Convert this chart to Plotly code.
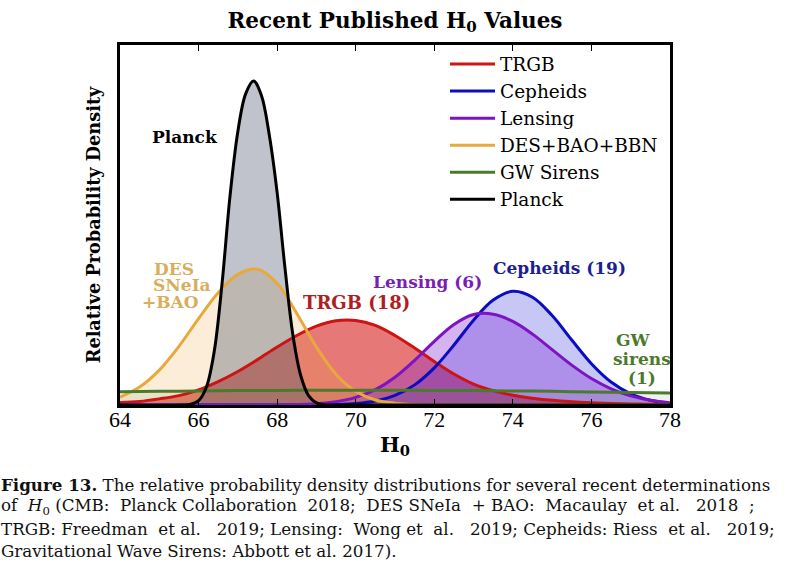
import plotly.graph_objects as go

# ---------------- data ----------------
h0_grid = [64.0, 64.5, 65.0, 65.5, 66.0, 66.5, 67.0, 67.5, 68.0, 68.5, 69.0, 69.5,
           70.0, 70.5, 71.0, 71.5, 72.0, 72.5, 73.0, 73.5, 74.0, 74.5, 75.0, 75.5,
           76.0, 76.5, 77.0, 77.5, 78.0]

trgb = [0.007, 0.010, 0.017, 0.026, 0.042, 0.065, 0.093, 0.126, 0.161, 0.193, 0.219, 0.234,
        0.235, 0.221, 0.193, 0.158, 0.121, 0.086, 0.058, 0.040, 0.027, 0.019, 0.013, 0.009,
        0.006, 0.004, 0.003, 0.002, 0.001]

cepheids = [0.0, 0.0, 0.0, 0.0, 0.0, 0.0, 0.0, 0.0, 0.0, 0.0001, 0.0004, 0.0013,
            0.0040, 0.0110, 0.0265, 0.0559, 0.1032, 0.1666, 0.2356, 0.2915, 0.3158, 0.2994, 0.2485, 0.1805,
            0.1148, 0.0639, 0.0311, 0.0133, 0.0050]

lensing = [0.0, 0.0, 0.0, 0.0, 0.0, 0.0, 0.0, 0.0001, 0.0004, 0.0012, 0.0035, 0.0092,
           0.0210, 0.0428, 0.0773, 0.1241, 0.1769, 0.2239, 0.2515, 0.2522, 0.2321, 0.1968, 0.1538, 0.1108,
           0.0735, 0.0450, 0.0254, 0.0132, 0.0063]

des = [0.022, 0.050, 0.097, 0.163, 0.240, 0.312, 0.363, 0.377, 0.338, 0.254, 0.161, 0.085,
       0.038, 0.014, 0.005, 0.001, 0.0, 0.0, 0.0, 0.0, 0.0, 0.0, 0.0, 0.0,
       0.0, 0.0, 0.0, 0.0, 0.0]

gw_h0 = [64, 65, 66, 67, 68, 69, 70, 71, 72, 73, 74, 75, 76, 77, 78]
gw = [0.037, 0.038, 0.039, 0.040, 0.0405, 0.041, 0.041, 0.041, 0.0405, 0.040, 0.039, 0.038,
      0.036, 0.0345, 0.033]

planck_h0 = [64.0, 65.6, 65.8, 66.0, 66.2, 66.4, 66.6, 66.8, 67.0, 67.2, 67.4, 67.6, 67.8,
             68.0, 68.2, 68.4, 68.6, 68.8, 69.0, 69.2, 69.4, 78.0]
planck = [0.0, 0.0, 0.002, 0.012, 0.050, 0.150, 0.340, 0.580, 0.760, 0.865, 0.900, 0.860, 0.750,
          0.590, 0.380, 0.195, 0.082, 0.026, 0.006, 0.001, 0.0, 0.0]

x_ticks = [64, 66, 68, 70, 72, 74, 76, 78]

series_names = ["TRGB", "Cepheids", "Lensing", "DES+BAO+BBN", "GW Sirens", "Planck"]

caption_lines = [
    "<b>Figure 13.</b> The relative probability density distributions for several recent determinations",
    "of <i>H</i><sub>0</sub> (CMB: Planck Collaboration 2018; DES SNeIa + BAO: Macaulay et al.  2018 ;",
    "TRGB: Freedman et al.  2019; Lensing: Wong et al.  2019; Cepheids: Riess et al.  2019;",
    "Gravitational Wave Sirens: Abbott et al. 2017).",
]

# ---------------- styling ----------------
W, H = 786, 586
L, R, T, B = 120, 670, 45, 405          # plot area in pixels
XMIN, XMAX, YMIN, YMAX = 64, 78, 0.0, 1.0

def px_x(p):   # pixel -> data x
    return XMIN + (p - L) / (R - L) * (XMAX - XMIN)

def px_y(p):   # pixel -> data y
    return YMIN + (B - p) / (B - T) * (YMAX - YMIN)

def paper_x(p):
    return (p - L) / (R - L)

def paper_y(p):
    return (B - p) / (B - T)

def widen(text, extra):
    """Approximate justified text: add a no-break space after `extra` evenly chosen spaces."""
    parts = text.split(" ")
    gaps = len(parts) - 1
    if extra <= 0 or gaps <= 0:
        return text
    picks = set(int((i + 0.5) * gaps / extra) for i in range(extra))
    out = parts[0]
    for i in range(gaps):
        out += (" &nbsp;" if i in picks else " ") + parts[i + 1]
    return out

line_cols = {"TRGB": "#cc1414", "Cepheids": "#0c0cc0", "Lensing": "#7d14c4",
             "DES+BAO+BBN": "#e8a93c", "GW Sirens": "#4c7a2c", "Planck": "#000000"}
fill_cols = {"TRGB": "rgba(214,22,22,0.58)", "Cepheids": "rgba(30,30,220,0.25)",
             "Lensing": "rgba(130,40,210,0.35)", "DES+BAO+BBN": "rgba(235,165,60,0.2)",
             "GW Sirens": "rgba(80,130,50,0.10)", "Planck": "rgba(80,90,110,0.36)"}

data_map = {"TRGB": (h0_grid, trgb), "Cepheids": (h0_grid, cepheids), "Lensing": (h0_grid, lensing),
            "DES+BAO+BBN": (h0_grid, des), "GW Sirens": (gw_h0, gw), "Planck": (planck_h0, planck)}

fig = go.Figure()

# fills first
for name in series_names:
    xs, ys = data_map[name]
    fig.add_trace(go.Scatter(x=xs, y=ys, mode="lines", fill="tozeroy",
                             fillcolor=fill_cols[name], line=dict(width=0, shape="spline", smoothing=1.0),
                             showlegend=False, hoverinfo="skip"))
# lines on top
for name in series_names:
    xs, ys = data_map[name]
    fig.add_trace(go.Scatter(x=xs, y=ys, mode="lines", name=name,
                             line=dict(color=line_cols[name], width=3, shape="spline", smoothing=1.0)))

BOLD = "DejaVu Serif"
REG = "Liberation Serif"

# in-plot labels
labels = [
    ("Planck", 185, 137, "#000000", 17),
    ("DES", 174, 268.5, "#d8ae5c", 17),
    ("SNeIa", 182, 285, "#d8ae5c", 17),
    ("+BAO", 170, 301.5, "#d8ae5c", 17),
    ("TRGB (18)", 356, 302, "#b01e22", 18),
    ("Lensing (6)", 427, 282, "#7a1eb4", 17),
    ("Cepheids (19)", 559, 268, "#1c1f92", 17),
    ("GW", 633, 340, "#4c7a2c", 17),
    ("sirens", 642, 359, "#4c7a2c", 17),
    ("(1)", 642, 378, "#4c7a2c", 17),
]
for txt, x, y, c, s in labels:
    fig.add_annotation(x=px_x(x), y=px_y(y), xref="x", yref="y", text="<b>%s</b>" % txt,
                       showarrow=False, xanchor="center", yanchor="middle",
                       font=dict(family=BOLD, size=s, color=c))

# caption (lines 1-3 justified in the reference)
cap_extra = [0, 9, 7, 0]
cap_y = [485, 507, 529, 551]
for txt, ex, y in zip(caption_lines, cap_extra, cap_y):
    fig.add_annotation(x=paper_x(0), y=paper_y(y), xref="paper", yref="paper", text=widen(txt, ex),
                       showarrow=False, xanchor="left", yanchor="middle", borderpad=0,
                       font=dict(family=BOLD, size=16.7, color="#111111"))

fig.update_layout(
    width=W, height=H,
    margin=dict(l=L, r=W - R, t=T, b=H - B, autoexpand=False),
    paper_bgcolor="white", plot_bgcolor="white",
    title=dict(text="<b>Recent Published H<sub>0</sub> Values</b>", x=0.5, xref="paper",
               y=1 - 20 / H, yref="container", xanchor="center", yanchor="middle",
               font=dict(family=BOLD, size=21.5, color="black")),
    xaxis=dict(range=[XMIN, XMAX], tickvals=x_ticks, ticktext=[str(t) for t in x_ticks],
               ticks="inside", ticklen=6, tickwidth=1, tickcolor="black",
               showline=True, linewidth=3, linecolor="black", mirror="ticks",
               showgrid=False, zeroline=False, ticklabelstandoff=-7,
               tickfont=dict(family=REG, size=22, color="black"),
               title=dict(text="<b>H<sub>0</sub></b>", standoff=6,
                          font=dict(family=BOLD, size=21, color="black"))),
    yaxis=dict(range=[YMIN, YMAX], showticklabels=False, ticks="",
               showline=True, linewidth=3, linecolor="black", mirror=True,
               showgrid=False, zeroline=False,
               title=dict(text="<b>Relative Probability Density</b>", standoff=12,
                          font=dict(family=BOLD, size=17.7, color="black"))),
    legend=dict(x=paper_x(445), y=paper_y(45.5), xanchor="left", yanchor="top",
                bgcolor="rgba(0,0,0,0)", borderwidth=0, itemwidth=45,
                font=dict(family=BOLD, size=18.5, color="black")),
    showlegend=True,
)

fig.write_html("out.html", config={"displayModeBar": False},
               post_script="document.body.style.margin='0';")
